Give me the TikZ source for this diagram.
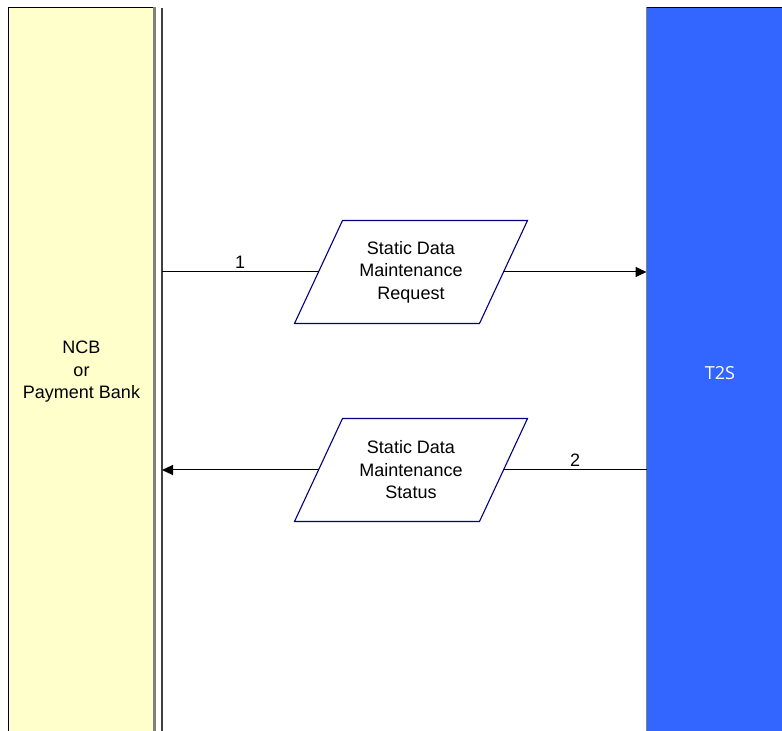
\documentclass[tikz,border=0pt]{standalone}
\usepackage{fontspec}
\setmainfont{Liberation Sans}
\newfontfamily\tsfont{Open Sans}
\usepackage{xcolor}
\usetikzlibrary{arrows.meta, positioning, calc, backgrounds}

\definecolor{ncbyellow}{HTML}{FFFFCC}
\definecolor{tsblue}{HTML}{3366FF}
\definecolor{msgnavy}{HTML}{000080}

\begin{document}
\begin{tikzpicture}[x=1pt, y=1pt, line width=1pt, font=\fontsize{18}{22.5}\selectfont,
    msg/.style={align=center, minimum width=184pt, minimum height=102pt, inner sep=0pt},
    flow/.style={-{Triangle[length=11pt, width=10pt]}}]
    \useasboundingbox (0,0) rectangle (782,731);

    \node[fill=ncbyellow, minimum width=145pt, minimum height=728pt, align=center]
      (ncb) at (81.5,359) {NCB\\or\\Payment Bank};
    \node[fill=tsblue, minimum width=146pt, minimum height=730pt, text=white,
      font=\tsfont\fontsize{18}{22}\selectfont]
      (t2s) at (720,358) {T2S};
    \draw[line width=1.5pt] (ncb.south west) -- (ncb.north west) -- (ncb.north east);
    \draw[gray, line width=2.5pt] (ncb.north east) -- (ncb.south east);
    \draw[line width=1.5pt] (t2s.north west) -- (t2s.north east);
    \draw[gray, line width=1.5pt] (t2s.north west) -- (t2s.south west);

    % boundary of the NCB lane
    \coordinate (bartop) at (162,723);
    \coordinate (barbot) at (162,-5);
    \draw[black!75, line width=1.5pt] (bartop) -- (barbot);

    \node[msg] (req) at (411,459) {Static Data\\Maintenance\\Request};
    \node[msg] (stat) at (411,261) {Static Data\\Maintenance\\Status};
    \begin{scope}[on background layer]
      \foreach \m in {req, stat}
        \draw[msgnavy, fill=white, line width=1.1pt] ($(\m.north west)+(24,0)$) -- ($(\m.north east)+(24,0)$)
          -- ($(\m.south east)+(-24,0)$) -- ($(\m.south west)+(-24,0)$) -- cycle;
    \end{scope}

    \draw (bartop |- req) -- node[above] {1} (req);
    \draw[flow] (req) -- (t2s.west |- req);
    \draw (t2s.west |- stat) -- node[above] {2} (stat);
    \draw[flow] (stat) -- (bartop |- stat);
\end{tikzpicture}
\end{document}
